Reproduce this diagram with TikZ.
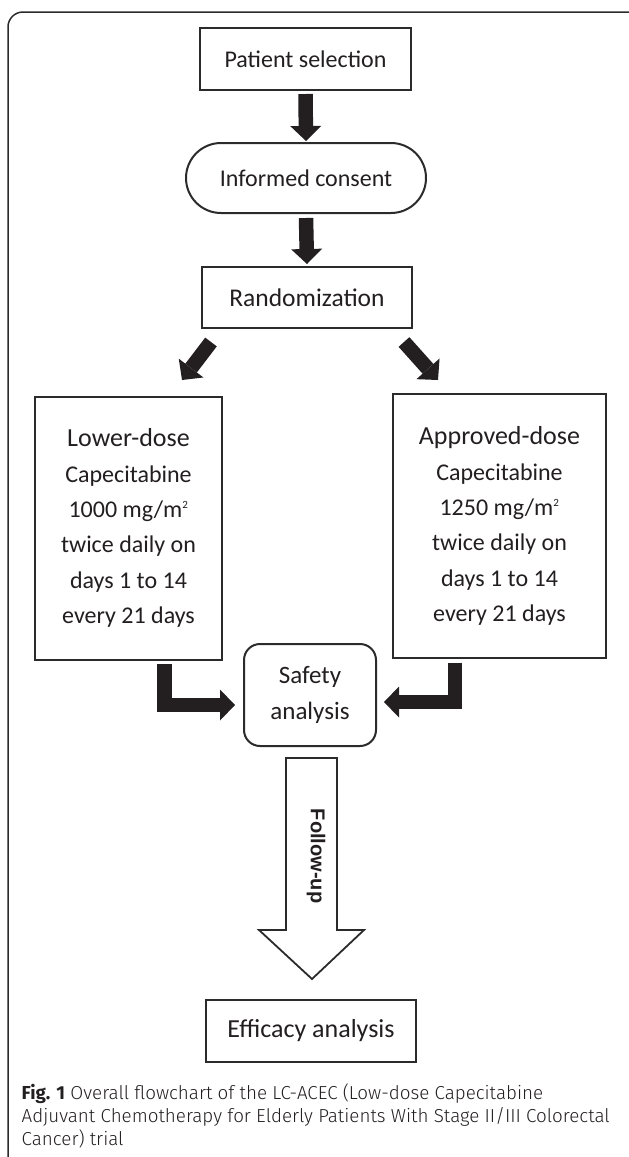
\documentclass[tikz,border=0pt]{standalone}
\usepackage{fontspec}
\setmainfont{Carlito}
\newfontfamily\capfont{Fira Sans Light}
\newfontfamily\capbold{Fira Sans}
\newfontfamily\arialfont{Liberation Sans}
\usetikzlibrary{arrows.meta,calc}
\definecolor{ink}{HTML}{231F20}
\definecolor{edge}{HTML}{2B2B2B}
\newcommand{\supsq}{\textsuperscript{\fontsize{11}{11}\selectfont 2}}
\tikzset{
  box/.style={draw=edge, line width=2pt, fill=white, inner sep=0pt, align=center, text=ink},
  blk/.style={draw=ink, line width=14.5pt, line join=miter,
    -{Triangle[width=31pt 0 0, length=15pt 0 0, line width=0pt 0 0]}},
  hollow/.style={draw=edge, line width=1.8pt, fill=white, line join=miter},
  captext/.style={anchor=base west, inner sep=0pt, text=ink, font=\capfont\fontsize{18.8}{22}\selectfont},
}
\begin{document}
\begin{tikzpicture}[x=1pt,y=-1pt]
\useasboundingbox (0,0) rectangle (629,1157);
% outer frame
\draw[draw=edge, line width=1.5pt, rounded corners=15pt] (8,1200) -- (8,12) -- (645,12) -- (645,1200);

\node[box, minimum width=211pt, minimum height=62pt, font=\fontsize{24}{28}\selectfont] (ps) at (305.5,59) {Patient selection};
\node[box, minimum width=240pt, minimum height=70pt, rounded corners=35pt, font=\fontsize{24}{28}\selectfont] (ic) at (306,178) {Informed consent};
\node[box, minimum width=210pt, minimum height=61pt, font=\fontsize{25.5}{30}\selectfont] (rnd) at (307,297.5) {Randomization};

\node[box, minimum width=187pt, minimum height=263pt, font=\fontsize{24}{35.4}\selectfont] (lo) at (128.5,528)
  {{\fontsize{26}{35.4}\selectfont Lower-dose}\\Capecitabine\\1000 mg/m\supsq\\twice daily on\\days 1 to 14\\every 21 days};
\node[box, minimum width=213pt, minimum height=264pt, font=\fontsize{24}{35.4}\selectfont] (hi) at (499.5,526)
  {{\fontsize{26}{35.4}\selectfont Approved-dose}\\Capecitabine\\1250 mg/m\supsq\\twice daily on\\days 1 to 14\\every 21 days};

\node[box, minimum width=132pt, minimum height=102pt, rounded corners=16pt, font=\fontsize{25}{36}\selectfont] (sa) at (310,695) {Safety\\analysis};
\node[box, minimum width=210pt, minimum height=62pt, font=\fontsize{26}{30}\selectfont] (ef) at (311,1031) {Efficacy analysis};

% black block arrows
\draw[blk] ([shift={(0,3)}]ps.south) -- ([shift={(0,-1)}]ic.north);
\draw[blk] ([shift={(0,4)}]ic.south) -- ([shift={(0,-2)}]rnd.north);
\draw[blk] ([shift={(-96,13)}]rnd.south) -- ([shift={(53.5,-15.5)}]lo.north);
\draw[blk] ([shift={(97,13)}]rnd.south) -- ([shift={(-61.5,-13)}]hi.north);
\draw[blk] ([shift={(36,3.5)}]lo.south) |- ([shift={(-8,10)}]sa.west);
\draw[blk] ([shift={(-44.5,3.5)}]hi.south) |- ([shift={(7,7)}]sa.east);

% hollow follow-up arrow
\draw[hollow] ($(sa.south)+(-24,11)$) -- ($(sa.south)+(27,11)$) -- ($(sa.south)+(27,183)$)
  -- ($(sa.south)+(54,183)$) -- ($(ef.north)+(1,-20)$) -- ($(sa.south)+(-51,183)$)
  -- ($(sa.south)+(-24,183)$) -- cycle;
\node[rotate=-90, inner sep=0pt, text=ink, font=\arialfont\bfseries\fontsize{20}{24}\selectfont] (fu) at (316,856) {Follow-up};

% caption
\node[captext] (c1) at (21.5,1099) {{\capbold\bfseries Fig. 1} Overall flowchart of the LC-ACEC (Low-dose Capecitabine};
\node[captext] (c2) at (21.5,1122) {Adjuvant Chemotherapy for Elderly Patients With Stage II/III Colorectal};
\node[captext] (c3) at (21.5,1145) {Cancer) trial};
\end{tikzpicture}
\end{document}
